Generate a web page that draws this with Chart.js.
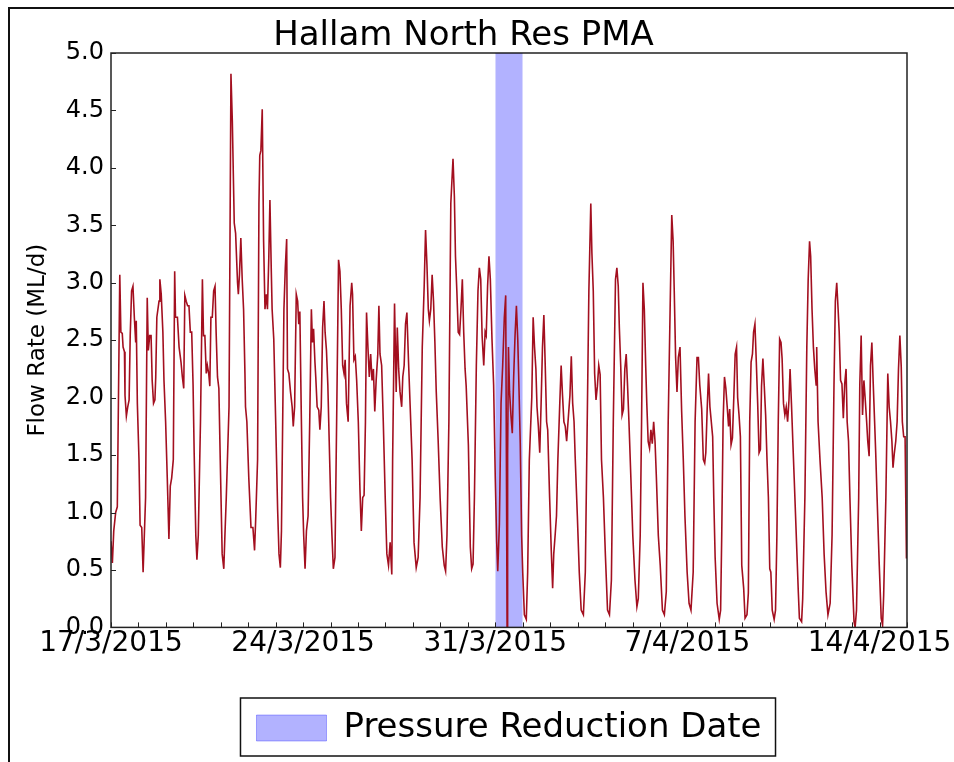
<!DOCTYPE html>
<html lang="en">
<head>
    <meta charset="UTF-8">
    <title>Hallam North Res PMA</title>
    <script src="https://cdn.jsdelivr.net/npm/chart.js"></script>
    <style>
        html, body { margin: 0; overflow: hidden; background: #fff; }
        #frame { position: absolute; left: 8px; top: 7px; width: 944px; height: 760px; border-left: 2px solid #111; border-top: 2px solid #111; }
        #flowChart { position: absolute; left: 0; top: 0; }
    </style>
</head>
<body>
    <div id="frame"></div>
    <canvas id="flowChart" width="954" height="762"></canvas>

    <script>
        // x values are days since 17/3/2015 00:00
        const tickDates = ['17/3/2015', '24/3/2015', '31/3/2015', '7/4/2015', '14/4/2015'];
        const dayRange = [0, 29];
        const flowRange = [0, 5];
        const pressureReduction = [14, 15]; // 31/3 - 1/4

        // [day, flow ML/d]
        const flowReadings = [
            [0.00,0.75],[0.05,0.56],[0.10,0.84],[0.17,1.00],[0.23,1.05],[0.32,3.07],[0.36,2.57],[0.41,2.56],[0.44,2.44],[0.49,2.40],[0.51,2.02],[0.56,1.84],[0.61,1.92],[0.66,1.98],[0.70,2.54],[0.75,2.93],[0.80,2.97],[0.85,2.70],[0.90,2.48],[0.92,2.67],[0.96,1.95],[1.02,1.46],[1.06,0.89],[1.12,0.87],[1.17,0.48],
            [1.26,1.13],[1.32,2.87],[1.36,2.41],[1.41,2.54],[1.46,2.54],[1.50,2.15],[1.55,1.95],[1.60,1.98],[1.63,2.18],[1.67,2.70],[1.75,2.84],[1.78,3.03],[1.83,2.90],[1.89,2.57],[1.93,2.15],[1.99,1.79],[2.05,1.30],[2.11,0.77],
            [2.16,1.23],[2.21,1.30],[2.27,1.46],[2.32,3.10],[2.35,2.70],[2.42,2.70],[2.48,2.44],[2.55,2.31],[2.60,2.18],[2.65,2.08],[2.69,2.89],[2.74,2.84],[2.79,2.80],[2.84,2.80],[2.89,2.57],[2.94,2.57],[2.99,2.11],[3.03,1.52],[3.09,0.80],[3.13,0.59],
            [3.18,0.80],[3.26,1.79],[3.33,3.03],[3.37,2.54],[3.42,2.54],[3.47,2.21],[3.51,2.28],[3.56,2.21],[3.60,2.10],[3.64,2.70],[3.69,2.70],[3.74,2.93],[3.79,2.97],[3.83,2.57],[3.88,2.18],[3.93,2.08],[3.98,1.46],[4.05,0.64],[4.11,0.51],
            [4.15,0.80],[4.20,1.13],[4.30,1.92],[4.37,4.82],[4.42,4.41],[4.49,3.52],[4.54,3.43],[4.61,3.00],[4.64,2.90],[4.68,3.07],[4.73,3.39],[4.78,3.03],[4.83,2.77],[4.88,2.21],[4.90,1.92],[4.95,1.79],[5.02,1.30],[5.10,0.87],[5.17,0.87],[5.23,0.67],
            [5.27,0.93],[5.34,1.46],[5.39,3.69],[5.42,4.11],[5.46,4.15],[5.51,4.51],[5.56,3.36],[5.61,2.77],[5.66,2.90],[5.70,2.77],[5.75,3.23],[5.79,3.72],[5.84,3.10],[5.87,2.77],[5.93,2.51],[6.00,1.79],[6.07,1.03],[6.12,0.64],[6.17,0.52],
            [6.21,0.84],[6.30,2.77],[6.35,3.13],[6.40,3.38],[6.43,2.25],[6.48,2.21],[6.54,2.05],[6.60,1.92],[6.64,1.75],[6.69,1.92],[6.75,2.90],[6.80,2.84],[6.84,2.64],[6.88,2.75],[6.93,1.90],[6.98,1.13],[7.02,0.80],[7.07,0.51],
            [7.12,0.84],[7.18,0.97],[7.24,1.79],[7.30,2.77],[7.34,2.48],[7.38,2.60],[7.43,2.31],[7.46,2.18],[7.51,1.92],[7.57,1.89],[7.61,1.72],[7.66,1.92],[7.71,2.61],[7.76,2.84],[7.80,2.57],[7.85,2.41],[7.90,2.11],[7.95,1.62],[8.00,1.13],[8.05,0.80],[8.10,0.51],[8.16,0.61],
            [8.22,1.79],[8.29,3.20],[8.34,3.10],[8.39,2.77],[8.44,2.28],[8.49,2.21],[8.53,2.33],[8.58,1.95],[8.64,1.79],[8.68,2.38],[8.71,2.80],[8.77,3.00],[8.80,2.90],[8.85,2.33],[8.90,2.36],[8.95,2.15],[9.01,1.79],[9.07,1.20],[9.12,0.84],
            [9.17,1.13],[9.22,1.15],[9.27,1.79],[9.31,2.74],[9.36,2.44],[9.41,2.18],[9.46,2.38],[9.51,2.15],[9.56,2.25],[9.61,1.88],[9.66,2.15],[9.72,2.38],[9.76,2.80],[9.80,2.38],[9.86,2.28],[9.92,1.79],[9.99,1.13],[10.05,0.64],[10.11,0.54],[10.17,0.74],[10.23,0.46],
            [10.26,1.46],[10.33,2.82],[10.39,2.05],[10.43,2.61],[10.48,2.25],[10.53,2.05],[10.59,1.92],[10.63,2.18],[10.68,2.28],[10.73,2.64],[10.78,2.74],[10.84,2.31],[10.90,1.92],[10.97,1.46],[11.04,0.74],[11.12,0.52],[11.19,0.61],
            [11.26,1.13],[11.34,2.44],[11.41,2.97],[11.46,3.46],[11.51,3.16],[11.56,2.77],[11.60,2.67],[11.65,2.77],[11.70,3.07],[11.75,2.84],[11.80,2.48],[11.85,2.05],[11.92,1.62],[11.99,1.13],[12.07,0.70],[12.14,0.54],[12.19,0.49],
            [12.24,0.80],[12.31,1.79],[12.38,3.69],[12.46,4.08],[12.51,3.75],[12.55,3.23],[12.60,2.93],[12.65,2.57],[12.70,2.55],[12.75,2.77],[12.80,3.03],[12.85,2.57],[12.90,2.25],[12.94,2.10],[13.02,1.59],[13.09,0.70],[13.14,0.51],[13.19,0.55],
            [13.24,1.13],[13.31,2.28],[13.37,2.93],[13.42,3.13],[13.47,3.03],[13.52,2.54],[13.58,2.28],[13.63,2.57],[13.67,2.54],[13.72,2.97],[13.77,3.23],[13.82,3.03],[13.88,2.51],[13.94,2.11],[14.00,1.30],
            [14.05,0.75],[14.09,0.49],[14.15,0.90],[14.21,1.95],[14.27,2.28],[14.33,2.70],[14.38,2.89],[14.41,1.20],[14.43,0.00],[14.45,1.50],[14.48,2.44],[14.52,2.05],[14.57,1.85],[14.62,1.69],[14.67,2.18],[14.72,2.54],[14.77,2.80],[14.82,2.50],[14.87,2.02],[14.91,1.60],[14.96,0.80],[15.00,0.48],[15.06,0.11],[15.13,0.07],[15.18,0.48],[15.24,1.46],
            [15.33,2.00],[15.38,2.70],[15.43,2.44],[15.48,2.25],[15.52,1.92],[15.57,1.75],[15.62,1.52],[15.67,1.95],[15.72,2.44],[15.77,2.72],[15.82,2.28],[15.87,1.79],[15.91,1.72],[15.98,1.13],[16.04,0.67],[16.09,0.34],
            [16.13,0.64],[16.18,0.80],[16.23,0.97],[16.28,1.46],[16.35,1.95],[16.40,2.28],[16.45,2.02],[16.50,1.79],[16.55,1.75],[16.60,1.62],[16.65,1.79],[16.72,2.02],[16.77,2.36],[16.82,1.95],[16.87,1.79],[16.91,1.49],[16.99,0.97],[17.06,0.48],[17.13,0.15],[17.21,0.11],[17.28,0.48],
            [17.35,1.79],[17.41,2.93],[17.48,3.69],[17.52,3.26],[17.57,2.93],[17.62,2.21],[17.67,1.98],[17.72,2.10],[17.77,2.28],[17.82,2.20],[17.87,1.46],[17.94,1.13],[18.01,0.64],[18.09,0.15],[18.16,0.11],[18.23,0.41],
            [18.30,1.79],[18.38,3.03],[18.43,3.13],[18.48,2.97],[18.52,2.61],[18.57,2.28],[18.62,1.85],[18.67,1.90],[18.72,2.25],[18.77,2.38],[18.82,2.10],[18.87,1.79],[18.94,1.30],[19.01,0.80],[19.09,0.41],[19.16,0.18],[19.21,0.25],[19.28,0.80],
            [19.33,1.79],[19.38,3.00],[19.43,2.77],[19.48,2.28],[19.52,1.95],[19.57,1.62],[19.62,1.56],[19.67,1.72],[19.72,1.60],[19.77,1.79],[19.82,1.62],[19.87,1.30],[19.94,0.80],[20.01,0.54],[20.09,0.15],[20.16,0.11],[20.23,0.31],
            [20.30,1.79],[20.37,2.77],[20.43,3.59],[20.48,3.36],[20.52,2.93],[20.57,2.35],[20.62,2.05],[20.67,2.35],[20.73,2.44],[20.79,1.88],[20.85,1.46],[20.91,0.97],[20.99,0.48],[21.06,0.21],[21.13,0.15],[21.21,0.48],
            [21.28,1.79],[21.35,2.35],[21.40,2.35],[21.45,2.11],[21.52,1.90],[21.58,1.46],[21.63,1.43],[21.67,1.52],[21.72,1.90],[21.77,2.21],[21.82,1.92],[21.87,1.79],[21.92,1.66],[21.96,1.13],[22.01,0.61],[22.08,0.21],[22.16,0.07],[22.21,0.15],
            [22.25,0.80],[22.30,1.79],[22.35,2.18],[22.40,2.08],[22.45,1.92],[22.50,1.75],[22.54,1.90],[22.59,1.59],[22.64,1.65],[22.69,2.00],[22.74,2.38],[22.79,2.44],[22.83,2.00],[22.88,1.85],[22.93,1.66],[22.98,0.54],[23.05,0.34],[23.10,0.08],[23.17,0.11],[23.22,0.30],
            [23.27,1.79],[23.32,2.31],[23.37,2.38],[23.41,2.57],[23.46,2.64],[23.51,2.31],[23.56,1.95],[23.61,1.52],[23.66,1.55],[23.70,2.10],[23.75,2.34],[23.80,2.10],[23.85,1.85],[23.90,1.46],[23.95,1.13],[24.00,0.51],[24.04,0.48],[24.09,0.15],[24.16,0.07],[24.21,0.15],
            [24.26,0.80],[24.31,1.79],[24.36,2.51],[24.41,2.48],[24.45,2.34],[24.50,1.95],[24.55,1.85],[24.60,1.92],[24.65,1.79],[24.70,1.98],[24.74,2.25],[24.79,1.95],[24.84,1.62],[24.89,1.30],[24.96,0.84],[25.04,0.31],[25.08,0.08],[25.16,0.05],[25.20,0.25],
            [25.28,1.13],[25.35,2.44],[25.40,3.03],[25.45,3.36],[25.49,3.23],[25.54,2.77],[25.59,2.44],[25.64,2.25],[25.69,2.11],[25.71,2.44],[25.76,1.79],[25.83,1.46],[25.91,1.13],[25.98,0.64],[26.05,0.31],[26.12,0.11],[26.20,0.21],
            [26.27,0.80],[26.34,2.11],[26.39,2.84],[26.44,3.00],[26.49,2.77],[26.53,2.57],[26.58,2.15],[26.63,2.12],[26.68,1.82],[26.73,2.12],[26.78,2.25],[26.82,1.79],[26.87,1.62],[26.92,1.13],[26.99,0.54],[27.07,0.05],[27.11,0.00],[27.16,0.15],
            [27.24,1.13],[27.28,2.11],[27.33,2.54],[27.38,1.85],[27.43,2.15],[27.48,1.98],[27.53,1.79],[27.57,1.62],[27.62,1.49],[27.67,2.28],[27.72,2.48],[27.77,2.12],[27.82,1.79],[27.86,1.52],[27.91,1.13],[27.99,0.54],[28.06,0.08],[28.11,0.02],[28.15,0.28],
            [28.23,1.13],[28.30,2.21],[28.35,1.92],[28.40,1.79],[28.45,1.62],[28.49,1.39],[28.54,1.52],[28.59,1.62],[28.64,1.79],[28.69,2.25],[28.74,2.54],[28.79,2.27],[28.83,1.79],[28.88,1.66],[28.93,1.66],[28.98,0.60]
        ];

        const font = 'DejaVu Sans';

        // box round the axes, inward tick marks, frame round the legend
        const axesFrame = {
            id: 'axesFrame',
            afterDraw(chart) {
                const { ctx, chartArea: a, scales: { x, y } } = chart;
                ctx.save();
                ctx.strokeStyle = '#222';
                ctx.lineWidth = 1.5;
                ctx.strokeRect(a.left, a.top, a.right - a.left, a.bottom - a.top);

                ctx.lineWidth = 1;
                ctx.beginPath();
                x.ticks.forEach(t => {
                    const px = Math.round(x.getPixelForValue(t.value)) + 0.5;
                    ctx.moveTo(px, a.bottom);
                    ctx.lineTo(px, a.bottom - 5);
                });
                y.ticks.forEach(t => {
                    const py = Math.round(y.getPixelForValue(t.value)) + 0.5;
                    ctx.moveTo(a.left, py);
                    ctx.lineTo(a.left + 5, py);
                });
                ctx.stroke();

                const hb = chart.legend.legendHitBoxes[0];
                if (hb) {
                    ctx.lineWidth = 1.5;
                    ctx.strokeStyle = '#111';
                    ctx.strokeRect(hb.left - 16, hb.top - 13, hb.width + 30, hb.height + 24);
                }
                ctx.restore();
            }
        };

        new Chart(document.getElementById('flowChart'), {
            type: 'line',
            data: {
                datasets: [
                    {
                        label: 'Flow Rate',
                        data: flowReadings.map(([d, v]) => ({ x: d, y: v })),
                        borderColor: '#a30f1f',
                        borderWidth: 1.6,
                        pointRadius: 0,
                        tension: 0,
                        fill: false,
                        order: 1
                    },
                    {
                        label: 'Pressure Reduction Date',
                        data: pressureReduction.map(d => ({ x: d, y: flowRange[1] })),
                        backgroundColor: 'rgba(0, 0, 255, 0.3)',
                        borderColor: 'rgba(0, 0, 255, 0.3)',
                        borderWidth: 1,
                        pointRadius: 0,
                        fill: 'origin',
                        order: 2
                    }
                ]
            },
            options: {
                responsive: false,
                animation: false,
                layout: { padding: { left: 20, right: 47, top: 0, bottom: 7 } },
                plugins: {
                    title: {
                        display: true,
                        text: 'Hallam North Res PMA',
                        color: '#000',
                        font: { family: font, size: 34, weight: 'normal', lineHeight: 1 },
                        padding: { top: 19, bottom: 0 }
                    },
                    legend: {
                        position: 'bottom',
                        fullSize: false,
                        labels: {
                            filter: item => item.datasetIndex === 1,
                            boxWidth: 70,
                            boxHeight: 26,
                            padding: 50,
                            color: '#000',
                            font: { family: font, size: 34 }
                        }
                    },
                    tooltip: { enabled: false }
                },
                scales: {
                    x: {
                        type: 'linear',
                        min: dayRange[0],
                        max: dayRange[1],
                        grid: { display: false, drawTicks: false },
                        border: { display: false },
                        ticks: {
                            stepSize: 1,
                            autoSkip: false,
                            maxRotation: 0,
                            padding: 0,
                            color: '#000',
                            font: { family: font, size: 28 },
                            callback: v => (v % 7 === 0 ? tickDates[v / 7] : '')
                        }
                    },
                    y: {
                        min: flowRange[0],
                        max: flowRange[1],
                        afterFit: scale => { scale.width = 91; },
                        grid: { display: false, drawTicks: false },
                        border: { display: false },
                        ticks: {
                            stepSize: 0.5,
                            padding: 7,
                            color: '#000',
                            font: { family: font, size: 24 },
                            callback: v => v.toFixed(1)
                        },
                        title: {
                            display: true,
                            text: 'Flow Rate (ML/d)',
                            color: '#000',
                            font: { family: font, size: 23 },
                            padding: { top: 4, bottom: 0 }
                        }
                    }
                }
            },
            plugins: [axesFrame]
        });
    </script>
</body>
</html>
